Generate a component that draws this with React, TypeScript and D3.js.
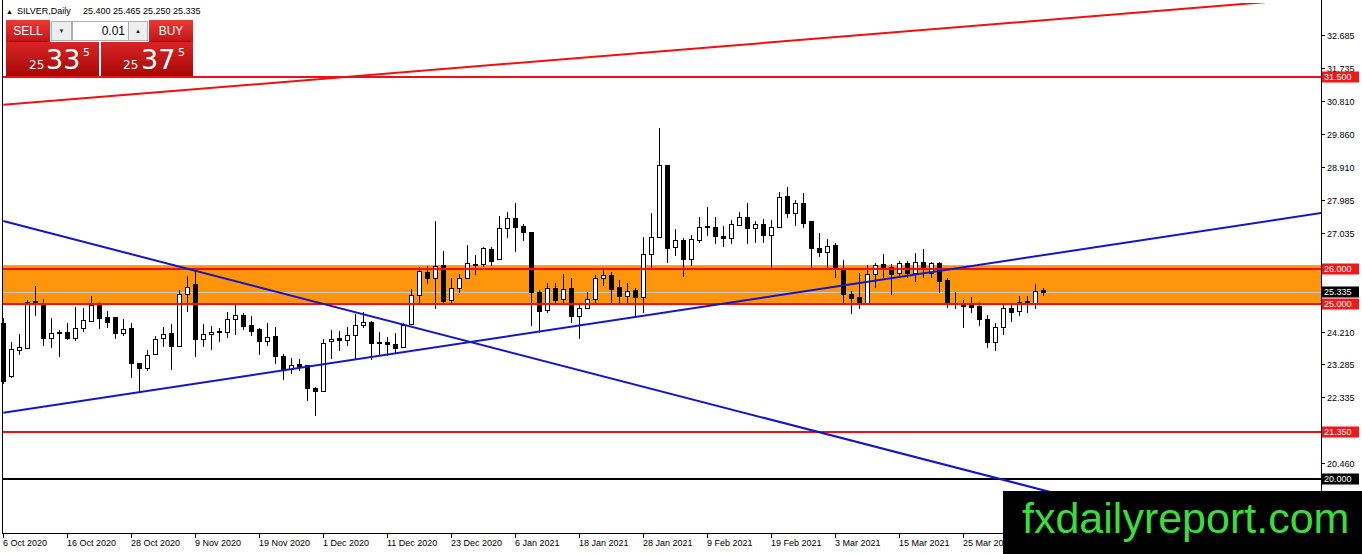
import React from "react";
import * as d3 from "d3";

// ---- data ----
const opens = [24.45,22.95,23.70,23.75,25.10,25.01,24.04,24.19,24.19,24.04,24.31,24.52,24.97,24.63,24.63,24.18,24.31,23.30,23.16,23.56,24.02,24.16,23.81,25.29,25.57,24.01,24.14,24.20,24.19,24.56,24.69,24.39,24.29,23.95,24.09,23.51,23.14,23.28,23.25,22.61,22.52,23.94,24.03,23.96,24.11,24.40,24.49,23.92,23.92,23.85,23.76,24.42,25.26,25.92,25.73,26.11,25.11,25.45,25.73,26.14,26.13,26.57,26.30,27.16,27.45,27.23,27.07,25.33,24.83,25.47,25.13,25.45,24.67,24.88,25.13,25.73,25.83,25.48,25.24,25.40,25.19,26.42,26.92,28.97,26.62,26.83,26.28,26.83,27.20,27.19,26.94,26.90,27.26,27.50,27.16,27.30,26.97,27.19,28.09,27.59,27.88,27.37,26.59,26.48,26.69,26.02,25.29,25.21,25.04,25.85,26.14,26.05,25.90,26.16,25.88,26.21,25.90,26.18,25.69,25.04,24.96,24.96,24.94,24.56,23.92,24.33,24.88,24.81,25.10,25.04,25.40];
const highs = [24.60,23.92,24.13,25.12,25.51,25.14,24.59,24.26,24.45,24.91,24.88,25.23,25.07,24.80,24.63,24.56,24.47,23.30,23.69,24.09,24.35,24.43,25.40,25.80,25.94,24.42,24.37,24.32,24.77,25.02,24.75,24.66,24.31,24.45,24.35,23.56,23.45,23.42,23.25,22.64,24.00,24.26,24.24,24.33,24.71,24.78,24.51,24.21,24.07,24.16,24.45,25.43,26.07,26.09,27.38,26.51,25.73,25.85,26.70,26.40,26.64,26.64,27.51,27.64,27.88,27.30,27.07,25.40,25.59,25.61,25.86,25.73,25.02,25.33,25.83,25.97,25.92,25.69,25.59,25.45,26.91,27.59,30.02,28.97,27.13,26.88,26.97,27.50,27.76,27.48,27.23,27.40,27.64,27.90,27.38,27.42,27.40,28.21,28.35,27.97,28.16,27.37,27.02,26.85,26.75,26.26,25.38,25.88,26.12,26.16,26.43,26.14,26.24,26.24,26.45,26.56,26.21,26.21,25.73,25.33,25.11,25.19,25.07,24.69,24.45,24.97,25.04,25.23,25.23,25.57,25.465];
const lows = [22.75,22.90,23.58,23.74,24.69,23.83,23.78,23.50,24.00,23.97,24.24,24.52,24.31,24.33,24.02,24.11,22.92,22.50,23.10,23.56,23.81,23.14,23.81,24.81,23.50,23.80,23.71,23.95,24.07,24.14,24.28,24.11,23.56,23.83,23.32,22.85,23.02,23.11,22.26,21.83,22.52,23.47,23.69,23.83,23.42,24.35,23.43,23.54,23.54,23.59,23.76,24.42,25.07,25.59,24.88,24.99,25.02,25.33,25.73,25.86,26.09,26.11,26.30,26.92,26.51,26.83,24.40,24.21,24.78,25.04,25.02,24.50,24.02,24.88,25.02,25.54,25.00,25.07,25.07,24.64,24.78,26.02,26.92,26.21,26.40,25.81,26.11,26.78,26.97,26.75,26.66,26.73,27.26,26.75,26.78,26.78,26.07,27.19,27.50,27.26,27.21,26.07,26.37,26.02,25.76,25.02,24.75,24.88,25.00,25.48,25.76,25.29,25.78,25.76,25.67,25.76,25.76,25.33,24.92,24.88,24.33,24.78,24.40,23.78,23.69,24.14,24.52,24.69,24.78,24.88,25.25];
const closes = [22.80,23.71,23.77,25.05,25.01,24.04,24.16,24.16,24.02,24.31,24.54,24.97,24.61,24.50,24.18,24.29,23.30,23.16,23.54,24.00,24.13,23.81,25.28,25.50,24.00,24.14,24.20,24.22,24.56,24.69,24.38,24.23,23.95,24.05,23.50,23.14,23.25,23.23,22.61,22.52,23.90,24.00,23.96,24.11,24.40,24.49,23.88,23.89,23.86,23.73,24.40,25.26,25.94,25.73,26.09,25.09,25.45,25.73,26.16,26.11,26.59,26.24,27.16,27.45,27.21,27.05,25.35,24.81,25.47,25.11,25.42,24.67,24.88,25.13,25.73,25.83,25.42,25.24,25.38,25.19,26.42,26.91,28.97,26.59,26.83,26.28,26.85,27.19,27.22,26.94,26.90,27.29,27.50,27.16,27.30,26.97,27.19,28.05,27.59,27.88,27.32,26.59,26.48,26.67,26.02,25.29,25.16,25.04,25.85,26.11,26.05,25.85,26.16,25.88,26.21,26.02,26.16,25.67,25.00,25.01,24.93,24.92,24.56,23.92,24.33,24.88,24.78,25.07,25.04,25.37,25.335];

const dateTickIdx = [0,8,16,24,32,40,48,56,64,72,80,88,96,104,112,120];
const dateTickLabels = ["6 Oct 2020","16 Oct 2020","28 Oct 2020","9 Nov 2020","19 Nov 2020","1 Dec 2020","11 Dec 2020","23 Dec 2020","6 Jan 2021","18 Jan 2021","28 Jan 2021","9 Feb 2021","19 Feb 2021","3 Mar 2021","15 Mar 2021","25 Mar 2021"];

// price-axis ticks; labels only where visible in the reference
const priceTicks = [32.685,31.735,30.810,29.860,28.910,27.985,27.035,26.110,24.210,23.285,22.335,20.460];
const priceTickLabels = ["32.685","31.735","30.810","29.860","28.910","27.985","27.035","","24.210","23.285","22.335","20.460"];

const redLevels = [31.5, 26.0, 25.0, 21.35];
const blackLevels = [20.0];
const bidPrice = 25.335;
const zoneTop = 26.11;
const zoneBottom = 24.97;

// trend lines: [barIndex1, price1, barIndex2, price2]
const redTrend = [0, 30.69, 165, 33.76];
const blueDown = [0, 27.37, 165, 17.61];
const blueUp = [0, 21.89, 165, 27.61];

const W = 1362, H = 554;
const plotL = 2, plotR = 1321, plotB = 533, plotT = 3;
const RED = "#f01010";
const BLUE = "#1515c8";
const FONT = "'Liberation Sans', Arial, sans-serif";

export default function App() {
  const x = d3.scaleLinear().domain([0, 130]).range([3.3, 1043.3]);
  const y = d3.scaleLinear().domain([18.457, 33.686]).range([plotB, 0]);
  const cy = (v: number) => Math.round(y(v));
  const fmt = d3.format(".3f");

  const lineGen = d3.line<[number, number]>().x(d => x(d[0])).y(d => y(d[1]));
  const trend = (t: number[]) => lineGen([[t[0], t[1]], [t[2], t[3]]]) || "";

  const candles = opens.map((o, i) => {
    const c = closes[i], h = highs[i], l = lows[i];
    const cx = Math.round(x(i)) + 0.5;
    const top = Math.round(y(Math.max(o, c))) + 0.5;
    const bot = Math.round(y(Math.min(o, c))) + 0.5;
    const bear = c < o;
    return (
      <g key={i}>
        <line x1={cx} x2={cx} y1={Math.round(y(h))} y2={Math.round(y(l)) + 1} stroke="#000" strokeWidth={1} />
        {bot - top < 1 ? (
          <line x1={cx - 2.5} x2={cx + 2.5} y1={top} y2={top} stroke="#000" strokeWidth={1} />
        ) : (
          <rect x={cx - 2} y={top} width={4} height={bot - top} fill={bear ? "#000" : "#fff"} stroke="#000" strokeWidth={1} />
        )}
      </g>
    );
  });

  const levelBox = (v: number, fill: string, key: string) => {
    const yy = cy(v);
    return (
      <g key={key}>
        <rect x={1322} y={yy - 5.5} width={37} height={11} fill={fill} />
        <text x={1324} y={yy} dy="0.35em" fontFamily={FONT} fontSize={9} fill="#fff">{fmt(v)}</text>
      </g>
    );
  };

  return (
    <svg width={W} height={H} style={{ position: "absolute", left: 0, top: 0, background: "#fff" }}>
      <defs>
        <clipPath id="plot">
          <rect x={plotL} y={plotT} width={plotR - plotL} height={plotB - plotT} />
        </clipPath>
        <linearGradient id="btn" x1="0" y1="0" x2="0" y2="1">
          <stop offset="0" stopColor="#e93a36" />
          <stop offset="1" stopColor="#c21414" />
        </linearGradient>
        <linearGradient id="pbox" x1="0" y1="0" x2="0" y2="1">
          <stop offset="0" stopColor="#d82424" />
          <stop offset="1" stopColor="#a80808" />
        </linearGradient>
      </defs>

      {/* support/resistance zone */}
      <rect x={plotL} y={y(zoneTop)} width={plotR - plotL} height={y(zoneBottom) - y(zoneTop)} fill="#ff950a" />
      {/* bid line */}
      <line x1={plotL} x2={plotR} y1={cy(bidPrice) + 0.5} y2={cy(bidPrice) + 0.5} stroke="#d0c8c0" strokeWidth={1} />

      {candles}

      <g clipPath="url(#plot)">
        {redLevels.map((v, i) => (
          <line key={"r" + i} x1={plotL} x2={plotR} y1={cy(v)} y2={cy(v)} stroke={RED} strokeWidth={2} />
        ))}
        {blackLevels.map((v, i) => (
          <line key={"k" + i} x1={plotL} x2={plotR} y1={cy(v)} y2={cy(v)} stroke="#000" strokeWidth={2} />
        ))}
        <path d={trend(redTrend)} stroke={RED} strokeWidth={2} fill="none" />
        <path d={trend(blueDown)} stroke={BLUE} strokeWidth={2} fill="none" />
        <path d={trend(blueUp)} stroke={BLUE} strokeWidth={2} fill="none" />
      </g>

      {/* frame */}
      <line x1={plotL + 0.5} x2={plotL + 0.5} y1={0} y2={plotB} stroke="#000" />
      <line x1={plotR + 0.5} x2={plotR + 0.5} y1={0} y2={H} stroke="#000" />
      <line x1={plotL} x2={plotR + 1} y1={plotB + 0.5} y2={plotB + 0.5} stroke="#000" />

      {/* price axis */}
      {priceTicks.map((v, i) => (
        <g key={"pt" + i}>
          <line x1={plotR} x2={plotR + 4} y1={cy(v) + 0.5} y2={cy(v) + 0.5} stroke="#000" />
          {priceTickLabels[i] ? (
            <text x={1327} y={cy(v) + 0.5} dy="0.35em" fontFamily={FONT} fontSize={9} fill="#000">{priceTickLabels[i]}</text>
          ) : null}
        </g>
      ))}
      {levelBox(bidPrice, "#000", "bid")}
      {redLevels.map((v, i) => levelBox(v, "#f01818", "rb" + i))}
      {blackLevels.map((v, i) => levelBox(v, "#000", "kb" + i))}

      {/* time axis */}
      {dateTickIdx.map((idx, i) => {
        const tx = Math.round(x(idx)) + 0.5;
        return (
          <g key={"dt" + i}>
            <line x1={tx} x2={tx} y1={plotB} y2={plotB + 5} stroke="#000" />
            <text x={tx - 0.5} y={546} fontFamily={FONT} fontSize={9} fill="#000">{dateTickLabels[i]}</text>
          </g>
        );
      })}

      {/* header */}
      <text x={6} y={14} fontFamily={FONT} fontSize={7} fill="#000">▲</text>
      <text x={17} y={11} dy="0.35em" fontFamily={FONT} fontSize={9} fill="#000">SILVER,Daily</text>
      <text x={83} y={11} dy="0.35em" fontFamily={FONT} fontSize={9} fill="#000">25.400 25.465 25.250 25.335</text>

      {/* trade panel */}
      <rect x={6} y={20} width={44} height={22} fill="url(#btn)" />
      <rect x={6} y={42} width={93} height={34} fill="url(#pbox)" />
      <rect x={149} y={20} width={44} height={22} fill="url(#btn)" />
      <rect x={101} y={42} width={92} height={34} fill="url(#pbox)" />
      <line x1={10} x2={47} y1={41.5} y2={41.5} stroke="#8a0a0a" />
      <line x1={152} x2={190} y1={41.5} y2={41.5} stroke="#8a0a0a" />
      <rect x={51.5} y={21.5} width={20} height={19} fill="#eeeeee" stroke="#b0b0b0" />
      <rect x={72.5} y={21.5} width={56} height={19} fill="#ffffff" stroke="#b0b0b0" />
      <rect x={128.5} y={21.5} width={19} height={19} fill="#eeeeee" stroke="#b0b0b0" />
      <text x={61.5} y={31} dy="0.35em" textAnchor="middle" fontFamily={FONT} fontSize={6} fill="#222">▼</text>
      <text x={138} y={31} dy="0.35em" textAnchor="middle" fontFamily={FONT} fontSize={6} fill="#222">▲</text>
      <text x={125} y={31} dy="0.35em" textAnchor="end" fontFamily={FONT} fontSize={12} fill="#000">0.01</text>
      <text x={28} y={31} dy="0.35em" textAnchor="middle" fontFamily={FONT} fontSize={12} fill="#fff">SELL</text>
      <text x={171} y={31} dy="0.35em" textAnchor="middle" fontFamily={FONT} fontSize={12} fill="#fff">BUY</text>
      <text x={29} y={69} fontFamily="'DejaVu Sans', sans-serif" fontSize={12} fill="#fff">25</text>
      <text x={46} y={69} fontFamily="'DejaVu Sans', sans-serif" fontSize={27} fill="#fff">33</text>
      <text x={83} y={56} fontFamily="'DejaVu Sans', sans-serif" fontSize={11} fill="#fff">5</text>
      <text x={123} y={69} fontFamily="'DejaVu Sans', sans-serif" fontSize={12} fill="#fff">25</text>
      <text x={141} y={69} fontFamily="'DejaVu Sans', sans-serif" fontSize={27} fill="#fff">37</text>
      <text x={178} y={56} fontFamily="'DejaVu Sans', sans-serif" fontSize={11} fill="#fff">5</text>

      {/* watermark */}
      <rect x={1003} y={491} width={W - 1003} height={H - 491} fill="#000" />
      <text x={1022} y={533} fontFamily={FONT} fontSize={43} fill="#3cdc3c">fxdailyreport.com</text>
    </svg>
  );
}
